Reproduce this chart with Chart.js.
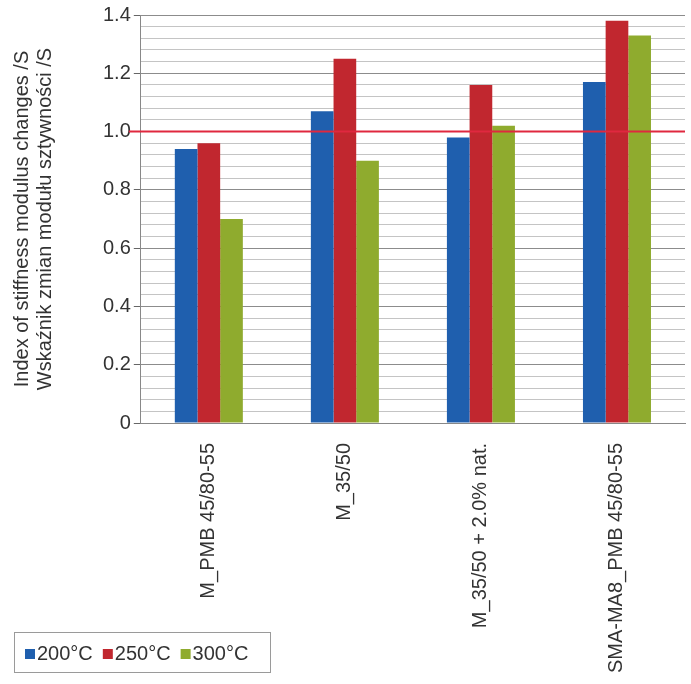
<!DOCTYPE html>
<html>
<head>
<meta charset="utf-8">
<script src="https://cdn.jsdelivr.net/npm/chart.js@4/dist/chart.umd.min.js"></script>
<style>
  html, body { margin: 0; padding: 0; background: #fff; }
  #wrap { width: 691px; height: 684px; }
</style>
</head>
<body>
<div id="wrap"><canvas id="myChart" width="691" height="684"></canvas></div>
<script>
const categories = [
  'M_PMB 45/80-55',
  'M_35/50',
  'M_35/50 + 2.0% nat.',
  'SMA-MA8_PMB 45/80-55',
];

const seriesNames = ['200°C', '250°C', '300°C'];
const values200 = [0.94, 1.07, 0.98, 1.17];
const values250 = [0.96, 1.25, 1.16, 1.38];
const values300 = [0.70, 0.90, 1.02, 1.33];
const colors = ['#1f5fae', '#c1272f', '#8fab2e'];
const referenceLevel = 1.0;
const yTitle = ['Index of stiffness modulus changes /S', 'Wskaźnik zmian modułu sztywności /S'];

const FONT = "'Liberation Sans', Arial, sans-serif";
const TEXT = '#333';

const data = {
  labels: categories,
  datasets: [values200, values250, values300].map((v, i) => ({
    label: seriesNames[i],
    data: v,
    backgroundColor: colors[i],
    borderWidth: 0,
    categoryPercentage: 0.5,
    barPercentage: 1.0,
  }))
};

function isMajor(v) {
  return Math.round(v * 100) % 20 === 0;
}

// red line at 1.0 + boxed legend in the bottom left corner
const extras = {
  id: 'extras',
  afterDatasetsDraw(chart) {
    const ctx = chart.ctx;
    const area = chart.chartArea;
    const y = chart.scales.y.getPixelForValue(referenceLevel);
    ctx.save();
    ctx.strokeStyle = '#e0283f';
    ctx.lineWidth = 2;
    ctx.beginPath();
    ctx.moveTo(area.left - 12, y);
    ctx.lineTo(area.right, y);
    ctx.stroke();
    ctx.restore();
  },
  afterDraw(chart) {
    const ctx = chart.ctx;
    ctx.save();
    ctx.strokeStyle = '#9a9a9a';
    ctx.lineWidth = 1;
    ctx.strokeRect(14.5, 632.5, 256, 40);
    ctx.font = '20px ' + FONT;
    ctx.textBaseline = 'middle';
    let x = 25;
    chart.data.datasets.forEach(ds => {
      ctx.fillStyle = ds.backgroundColor;
      ctx.fillRect(x, 649, 10, 10);
      ctx.fillStyle = TEXT;
      ctx.fillText(ds.label, x + 12, 654);
      x += 12 + ctx.measureText(ds.label).width + 10;
    });
    ctx.restore();
  }
};

const config = {
  type: 'bar',
  data: data,
  options: {
    responsive: false,
    animation: false,
    layout: { padding: { left: 11, right: 6, top: 6, bottom: 6 } },
    plugins: {
      legend: { display: false },
      tooltip: { enabled: false },
    },
    scales: {
      x: {
        grid: { display: false, drawTicks: false },
        border: { color: '#888', width: 1 },
        afterFit: s => { s.height = 255; },
        ticks: {
          minRotation: 90,
          maxRotation: 90,
          padding: 20,
          color: TEXT,
          font: { family: FONT, size: 20 },
        },
      },
      y: {
        min: 0,
        max: 1.4,
        border: { color: '#888', width: 1 },
        grid: {
          color: c => isMajor(c.tick.value) ? '#8c8c8c' : '#c4c4c4',
          lineWidth: 1,
          tickLength: 7,
          tickColor: c => isMajor(c.tick.value) ? '#666' : 'rgba(0,0,0,0)',
        },
        ticks: {
          stepSize: 0.04,
          autoSkip: false,
          color: TEXT,
          padding: 3,
          font: { family: FONT, size: 20 },
          callback: v => isMajor(v) ? (Math.abs(v) < 1e-9 ? '0' : v.toFixed(1)) : '',
        },
        title: {
          display: true,
          text: yTitle,
          color: TEXT,
          padding: { top: 0, bottom: 43 },
          font: { family: FONT, size: 20, lineHeight: 1.15 },
        },
      },
    },
  },
  plugins: [extras],
};

const myChart = new Chart(document.getElementById('myChart'), config);
</script>
</body>
</html>
